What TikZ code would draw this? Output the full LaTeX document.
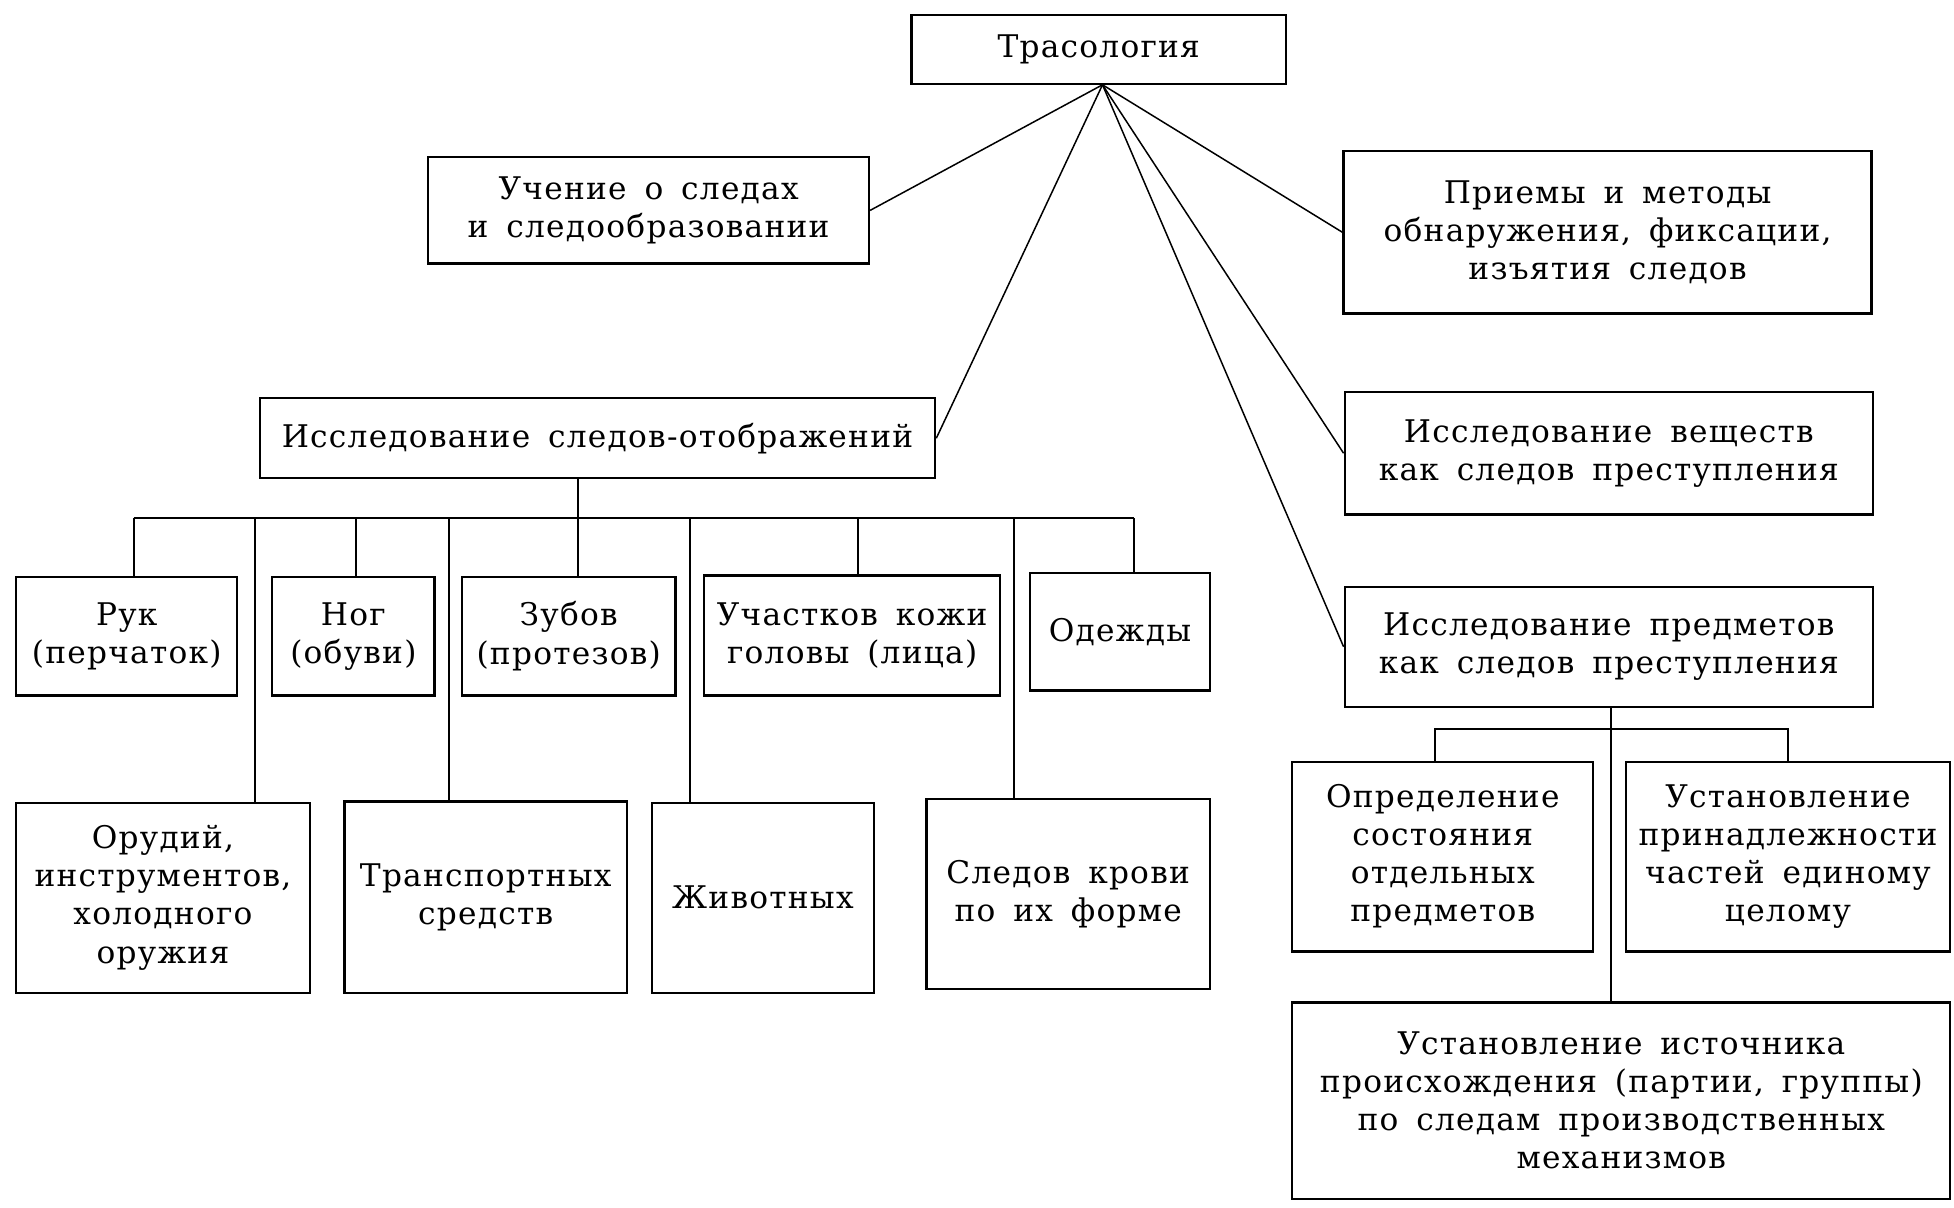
\documentclass[tikz,border=0pt]{standalone}
\usepackage{fontspec}
\setmainfont{DejaVu Serif}[LetterSpace=4,WordSpace=1.6]
\begin{document}
\begin{tikzpicture}[x=1pt,y=-1pt,
  box/.style={draw, line width=1.8pt, inner sep=0pt, align=center,
    font=\fontsize{25}{30.5}\selectfont},
  link/.style={line width=1.6pt},
  ray/.style={line width=1.2pt}]
\useasboundingbox (0,0) rectangle (1565,967.5);
% top level
\node[box, minimum width=300pt, minimum height=55pt] (tras) at (880,39.5) {Трасология};
\node[box, minimum width=353pt, minimum height=85pt] (uch) at (519.5,168.5) {Учение о следах\\и следообразовании};
\node[box, minimum width=423pt, minimum height=130pt] (priem) at (1287.5,186) {Приемы и методы\\обнаружения, фиксации,\\изъятия следов};
\node[box, minimum width=541pt, minimum height=64pt] (sled) at (478.5,351) {Исследование следов-отображений};
\node[box, minimum width=423pt, minimum height=98pt] (vesh) at (1288.5,363) {Исследование веществ\\как следов преступления};
\node[box, minimum width=423pt, minimum height=96pt] (pred) at (1288.5,518) {Исследование предметов\\как следов преступления};
% left subtree, upper row
\node[box, minimum width=177pt, minimum height=95pt] (ruk) at (101.5,509.5) {Рук\\(перчаток)};
\node[box, minimum width=130pt, minimum height=95pt] (nog) at (283,509.5) {Ног\\(обуви)};
\node[box, minimum width=171pt, minimum height=95pt] (zub) at (455.5,509.5) {Зубов\\(протезов)};
\node[box, minimum width=237pt, minimum height=96pt] (koz) at (682.5,509) {Участков кожи\\головы (лица)};
\node[box, minimum width=144pt, minimum height=94pt] (odez) at (897,506) {Одежды};
% left subtree, lower row
\node[box, minimum width=235pt, minimum height=152pt] (orud) at (130.5,719) {Орудий,\\инструментов,\\холодного\\оружия};
\node[box, minimum width=226pt, minimum height=153pt] (trans) at (389,718.5) {Транспортных\\средств};
\node[box, minimum width=178pt, minimum height=152pt] (ziv) at (611,719) {Животных};
\node[box, minimum width=227pt, minimum height=152pt] (krov) at (855.5,716) {Следов крови\\по их форме};
% right subtree
\node[box, minimum width=241pt, minimum height=152pt] (opr) at (1155.5,686) {Определение\\состояния\\отдельных\\предметов};
\node[box, minimum width=260pt, minimum height=152pt] (prin) at (1432,686) {Установление\\принадлежности\\частей единому\\целому};
\node[box, minimum width=527pt, minimum height=157pt] (ist) at (1298.5,881.5) {Установление источника\\происхождения (партии, группы)\\по следам производственных\\механизмов};
% rays from the root
\coordinate (apex) at ([xshift=3pt]tras.south);
\draw[ray] (apex) -- (uch.east);
\draw[ray] (apex) -- (sled.east);
\draw[ray] (apex) -- (priem.west);
\draw[ray] (apex) -- (vesh.west);
\draw[ray] (apex) -- (pred.west);
% left tree bus
\coordinate (b1) at (107,415);
\coordinate (b2) at (204,415);
\coordinate (b3) at (285,415);
\coordinate (b4) at (360,415);
\coordinate (b5) at (463,415);
\coordinate (b6) at (553,415);
\coordinate (b7) at (687,415);
\coordinate (b8) at (812,415);
\coordinate (b9) at (908,415);
\draw[link] (b5 |- sled.south) -- (b5 |- zub.north);
\draw[link] (b1) -- (b9);
\draw[link] (b1) -- (b1 |- ruk.north);
\draw[link] (b2) -- (b2 |- orud.north);
\draw[link] (b3) -- (b3 |- nog.north);
\draw[link] (b4) -- (b4 |- trans.north);
\draw[link] (b6) -- (b6 |- ziv.north);
\draw[link] (b7) -- (b7 |- koz.north);
\draw[link] (b8) -- (b8 |- krov.north);
\draw[link] (b9) -- (b9 |- odez.north);
% right tree
\coordinate (r0) at (1290,584);
\coordinate (r1) at (1149,584);
\coordinate (r2) at (1432,584);
\draw[link] (r0 |- pred.south) -- (r0 |- ist.north);
\draw[link] (r1 |- opr.north) -- (r1) -- (r2) -- (r2 |- prin.north);
\end{tikzpicture}
\end{document}
